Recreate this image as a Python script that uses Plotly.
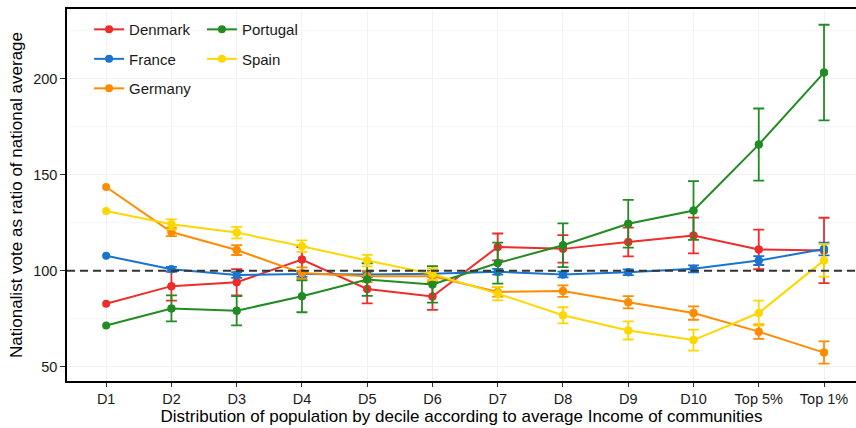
import plotly.graph_objects as go

categories = ["D1", "D2", "D3", "D4", "D5", "D6", "D7", "D8", "D9", "D10", "Top 5%", "Top 1%"]

denmark = [82.8, 92.0, 94.0, 105.8, 90.5, 86.6, 112.4, 111.4, 115.0, 118.4, 111.1, 110.6]
denmark_err = [None, 7.5, 6.8, 6.5, 7.5, 7.0, 7.0, 7.2, 7.5, 9.3, 10.3, 17.0]
france = [107.8, 100.8, 97.8, 98.3, 98.1, 98.5, 99.5, 98.1, 99.2, 101.0, 105.3, 111.3]
france_err = [None, 1.2, 1.5, 1.5, 1.5, 1.5, 1.5, 1.5, 1.5, 1.8, 2.3, 3.3]
germany = [143.6, 120.2, 110.8, 98.8, 97.1, 97.1, 89.0, 89.4, 83.6, 78.0, 68.3, 57.4]
germany_err = [None, 2.2, 2.6, 3.0, 3.0, 2.5, 2.5, 3.0, 3.2, 3.5, 3.8, 5.8]
portugal = [71.5, 80.4, 79.2, 86.7, 95.4, 92.9, 104.0, 113.3, 124.5, 131.4, 165.7, 203.2]
portugal_err = [None, 6.8, 7.6, 8.3, 8.5, 9.5, 10.7, 11.4, 12.4, 15.3, 18.8, 24.9]
spain = [131.1, 124.2, 119.9, 112.8, 105.3, 98.3, 88.1, 76.8, 68.9, 63.9, 78.0, 105.4]
spain_err = [None, 2.6, 3.0, 3.0, 3.0, 3.0, 3.5, 4.2, 4.7, 5.5, 6.5, 8.4]

series = [
    ("Denmark", denmark, denmark_err, "#EE2C2C", "legend"),
    ("France", france, france_err, "#1874CD", "legend"),
    ("Germany", germany, germany_err, "#FF8C00", "legend"),
    ("Portugal", portugal, portugal_err, "#228B22", "legend2"),
    ("Spain", spain, spain_err, "#FFD700", "legend2"),
]

FONT = "Liberation Sans, Arial, sans-serif"

fig = go.Figure()
for name, vals, errs, color, leg in series:
    fig.add_trace(go.Scatter(
        x=categories, y=vals, name=name, mode="lines+markers",
        line=dict(color=color, width=2), marker=dict(color=color, size=8),
        legend=leg, legendgroup=name, showlegend=True,
    ))
    idx = [i for i, e in enumerate(errs) if e is not None]
    fig.add_trace(go.Scatter(
        x=[categories[i] for i in idx], y=[vals[i] for i in idx],
        mode="markers", marker=dict(color=color, size=8),
        error_y=dict(type="data", array=[errs[i] for i in idx], color=color,
                     thickness=1.8, width=5.5),
        legend=leg, legendgroup=name, showlegend=False, hoverinfo="skip",
    ))

fig.add_shape(type="line", xref="paper", x0=0, x1=1, yref="y", y0=100, y1=100,
              line=dict(color="#333333", width=2, dash="8px,5px"), layer="above")

fig.update_layout(
    width=856, height=428,
    margin=dict(l=67, r=0, t=9, b=47, autoexpand=False),
    plot_bgcolor="white", paper_bgcolor="white",
    font=dict(family=FONT, color="#1a1a1a"),
    legend=dict(x=0.028, y=0.989, xanchor="left", yanchor="top",
                bgcolor="rgba(0,0,0,0)", font=dict(size=15, family=FONT, color="#1a1a1a"),
                tracegroupgap=7),
    legend2=dict(x=0.171, y=0.989, xanchor="left", yanchor="top",
                 bgcolor="rgba(0,0,0,0)", font=dict(size=15, family=FONT, color="#1a1a1a"),
                 tracegroupgap=7),
    xaxis=dict(
        type="category", range=[-0.6, 11.49], automargin=False,
        showline=True, linecolor="black", linewidth=1.5, mirror=True,
        ticks="outside", ticklen=4, tickcolor="#333", tickwidth=1,
        showgrid=True, gridcolor="#F2F2F2", gridwidth=1,
        tickfont=dict(size=14.5, family=FONT, color="#1a1a1a"),
        title=dict(text="Distribution of population by decile according to average Income of communities",
                   font=dict(size=17, family=FONT, color="black"), standoff=4),
        zeroline=False,
    ),
    yaxis=dict(
        range=[42.6, 236.3], tick0=0, dtick=50, automargin=False,
        showline=True, linecolor="black", linewidth=1.5,
        ticks="outside", ticklen=5, tickcolor="#333", tickwidth=1,
        showgrid=True, gridcolor="#F2F2F2", gridwidth=1,
        minor=dict(showgrid=True, gridcolor="#F7F7F7", tick0=25, dtick=50),
        tickfont=dict(size=14.5, family=FONT, color="#1a1a1a"),
        title=dict(text="Nationalist vote as ratio of national average",
                   font=dict(size=17, family=FONT, color="black"), standoff=6),
        zeroline=False,
    ),
)

fig.write_html("out.html", config={"displayModeBar": False},
               post_script="document.body.style.margin='0';document.body.style.padding='0';")
